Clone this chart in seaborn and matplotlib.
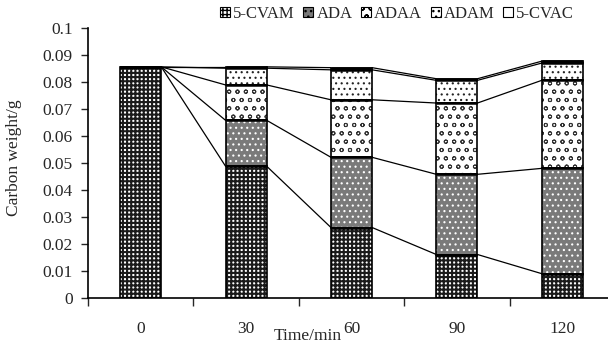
import numpy as np
import pandas as pd
import seaborn as sns
import matplotlib
matplotlib.use("Agg")
import matplotlib.pyplot as plt
from matplotlib.patches import Patch

# Data: carbon weight (g) of each product fraction over time
times = ["0", "30", "60", "90", "120"]
series = ["5-CVAM", "ADA", "ADAA", "ADAM", "5-CVAC"]
cvam = [0.0855, 0.0487, 0.0260, 0.0160, 0.0089]
ada = [0.0, 0.0170, 0.0260, 0.0297, 0.0390]
adaa = [0.0, 0.0131, 0.0213, 0.0264, 0.0326]
adam = [0.0, 0.0062, 0.0111, 0.0084, 0.0064]
cvac = [0.0, 0.0005, 0.0008, 0.0006, 0.0007]
yticks = [0, 0.01, 0.02, 0.03, 0.04, 0.05, 0.06, 0.07, 0.08, 0.09, 0.1]

values = [cvam, ada, adaa, adam, cvac]

sns.set_style("ticks")
plt.rcParams["font.family"] = ["Liberation Serif", "DejaVu Serif"]
plt.rcParams["hatch.linewidth"] = 1.2

# fill style per fraction: face colour, hatch, hatch colour, hatch width
styles = {
    "5-CVAM": ("#ffffff", "++++", "#1a1a1a", 1.5),
    "ADA": ("#7a7a7a", "...", "#ffffff", 0.8),
    "ADAA": ("#ffffff", "oo", "#333333", 0.7),
    "ADAM": ("#ffffff", "...", "#222222", 0.8),
    "5-CVAC": ("#ffffff", "", "#000000", 1.0),
}

fig = plt.figure(figsize=(6.08, 3.49), dpi=100)
ax = fig.add_axes([88 / 608, 51.3 / 349, 527 / 608, 270 / 349])

width = 0.39
bottom = np.zeros(len(times))
tops = []
for name, vals in zip(series, values):
    face, hatch, hcol, hlw = styles[name]
    plt.rcParams["hatch.linewidth"] = hlw
    df = pd.DataFrame({"time": times, "value": vals})
    # hatched fill
    sns.barplot(data=df, x="time", y="value", bottom=bottom, ax=ax,
                color=face, width=width, saturation=1, errorbar=None,
                hatch=hatch, edgecolor=hcol, linewidth=0, zorder=2)
    # outline
    sns.barplot(data=df, x="time", y="value", bottom=bottom, ax=ax,
                color="none", width=width, saturation=1, errorbar=None,
                edgecolor="black", linewidth=1.2, fill=False, zorder=3)
    bottom = bottom + np.array(vals)
    tops.append(bottom.copy())

# thicker line on the top edge of every segment
for top in tops:
    for i, t in enumerate(top):
        ax.plot([i - width / 2, i + width / 2], [t, t], color="black",
                lw=1.8, zorder=4, solid_capstyle="butt")

# series lines joining the segment tops of neighbouring bars
for top in tops:
    for i in range(len(times) - 1):
        ax.plot([i + width / 2, i + 1 - width / 2], [top[i], top[i + 1]],
                color="black", lw=0.9, zorder=1)

ax.set_xlim(-0.5, len(times) - 0.5)
ax.set_ylim(0, 0.1)
ax.set_yticks(yticks)
ax.set_yticklabels([f"{v:g}" for v in yticks])
ax.set_xticks(range(len(times)))
ax.set_xticklabels(times)
ax.set_xticks(np.arange(len(times) + 1) - 0.5, minor=True)
ax.tick_params(axis="x", which="major", length=0, pad=17, labelsize=12.5)
ax.tick_params(axis="x", which="minor", length=6, width=1, direction="out")
ax.tick_params(axis="y", length=5, width=1, labelsize=12.5, direction="out",
               pad=6)

for s in ["top", "right"]:
    ax.spines[s].set_visible(False)
for s in ["left", "bottom"]:
    ax.spines[s].set_linewidth(1.2)
    ax.spines[s].set_color("black")

ax.set_xlabel("Time/min", fontsize=12.5)
ax.xaxis.set_label_coords((308 - 88) / 527, -0.112)
ax.xaxis.label.set_va("top")
ax.set_ylabel("Carbon weight/g", fontsize=12.5)
ax.yaxis.set_label_coords(-0.125, 0.52)

handles = []
for name in series:
    face, hatch, hcol, hlw = styles[name]
    handles.append(Patch(facecolor=face, hatch=hatch, edgecolor="black",
                         linewidth=0.8, label=name))
fig.legend(handles=handles, loc="center", ncol=5,
           bbox_to_anchor=(397 / 608, 1 - 14 / 349), frameon=False,
           fontsize=12, handlelength=0.6, handleheight=0.6,
           handletextpad=0.2, columnspacing=0.5, borderpad=0)

fig.savefig("out.png", dpi=100)
